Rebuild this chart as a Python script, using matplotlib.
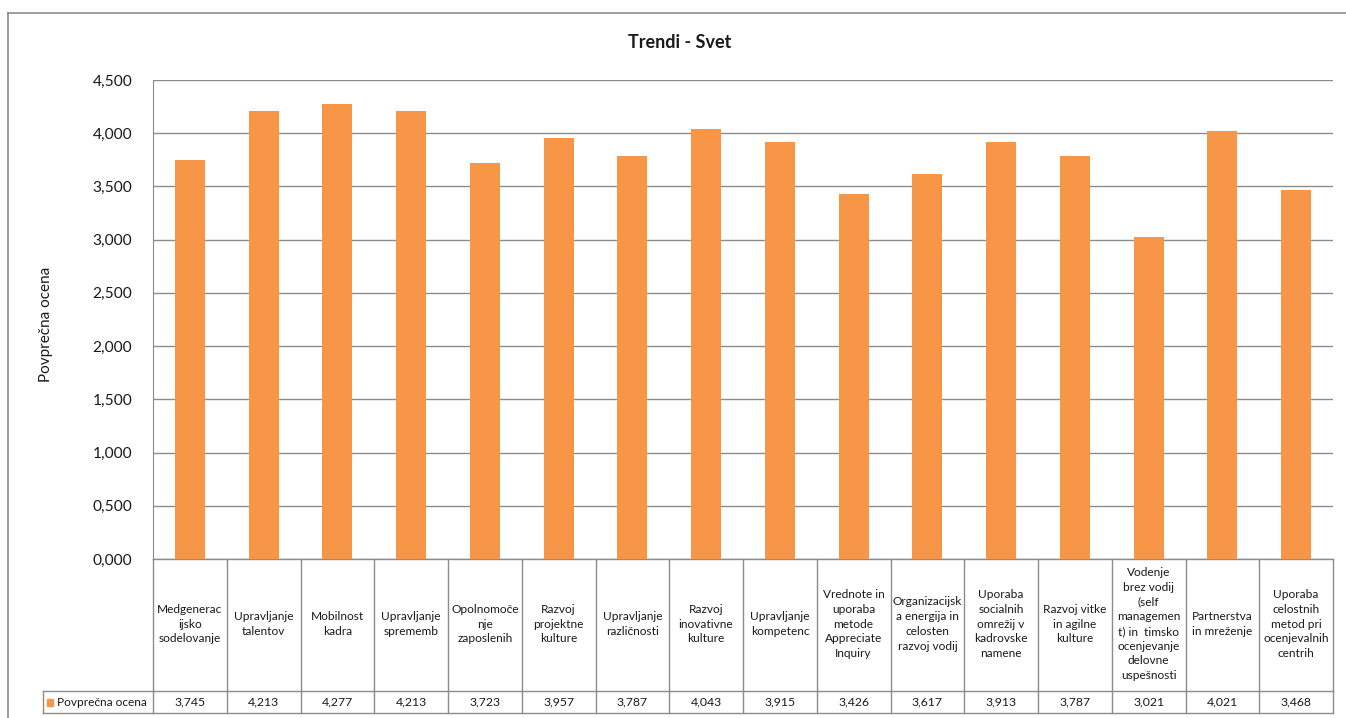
import matplotlib.pyplot as plt
from matplotlib.transforms import blended_transform_factory
from matplotlib.patches import Rectangle
from matplotlib.lines import Line2D

plt.rcParams['font.family'] = ['Lato', 'DejaVu Sans']

kategorije = [
    'Medgenerac\nijsko\nsodelovanje',
    'Upravljanje\ntalentov',
    'Mobilnost\nkadra',
    'Upravljanje\nsprememb',
    'Opolnomoče\nnje\nzaposlenih',
    'Razvoj\nprojektne\nkulture',
    'Upravljanje\nrazličnosti',
    'Razvoj\ninovativne\nkulture',
    'Upravljanje\nkompetenc',
    'Vrednote in\nuporaba\nmetode\nAppreciate\nInquiry',
    'Organizacijsk\na energija in\ncelosten\nrazvoj vodij',
    'Uporaba\nsocialnih\nomrežij v\nkadrovske\nnamene',
    'Razvoj vitke\nin agilne\nkulture',
    'Vodenje\nbrez vodij\n(self\nmanagemen\nt) in  timsko\nocenjevanje\ndelovne\nuspešnosti',
    'Partnerstva\nin mreženje',
    'Uporaba\ncelostnih\nmetod pri\nocenjevalnih\ncentrih',
]
ocene = [3.745, 4.213, 4.277, 4.213, 3.723, 3.957, 3.787, 4.043,
         3.915, 3.426, 3.617, 3.913, 3.787, 3.021, 4.021, 3.468]
y_ticks = [0, 0.5, 1.0, 1.5, 2.0, 2.5, 3.0, 3.5, 4.0, 4.5]

W, H = 1346, 718
oranzna = '#F79646'
siva = '#8C8C8C'
besedilo = '#1a1a1a'

fig = plt.figure(figsize=(W / 100, H / 100), dpi=100)
ax = fig.add_axes([153 / W, 1 - 559 / H, (1333 - 153) / W, (559 - 80) / H])

x = range(len(ocene))
ax.bar(x, ocene, width=0.41, color=oranzna, zorder=3)
ax.set_xlim(-0.5, len(ocene) - 0.5)
ax.set_ylim(0, 4.5)
ax.set_yticks(y_ticks)
ax.set_yticklabels([f'{t:.3f}'.replace('.', ',') for t in y_ticks],
                   fontsize=11.2, color=besedilo)
ax.set_xticks([])
ax.yaxis.grid(True, color=siva, linewidth=1, zorder=0)
ax.tick_params(axis='y', length=0, pad=15)
for s in ['top', 'right', 'bottom']:
    ax.spines[s].set_visible(False)
ax.spines['left'].set_color(siva)

ax.set_ylabel('Povprečna ocena', fontsize=11, color=besedilo)
ax.yaxis.set_label_coords(-0.085, 0.49)
fig.text(680 / W, 1 - 42 / H, 'Trendi - Svet', ha='center', va='center',
         fontsize=13, fontweight='bold', color=besedilo)

# tabela s podatki
tr = blended_transform_factory(ax.transData, fig.transFigure)
y_top = 1 - 559 / H
y_mid = 1 - 691 / H
y_bot = 1 - 713 / H
n = len(ocene)
for i in range(n + 1):
    ax.add_line(Line2D([i - 0.5, i - 0.5], [y_top, y_bot], transform=tr,
                       color=siva, linewidth=1, clip_on=False))
for yy in [y_top, y_mid, y_bot]:
    ax.add_line(Line2D([-0.5, n - 0.5], [yy, yy], transform=tr,
                       color=siva, linewidth=1, clip_on=False))
fig.add_artist(Line2D([43 / W, 153 / W], [y_mid, y_mid], color=siva, linewidth=1))
fig.add_artist(Line2D([43 / W, 153 / W], [y_bot, y_bot], color=siva, linewidth=1))
fig.add_artist(Line2D([43 / W, 43 / W], [y_mid, y_bot], color=siva, linewidth=1))

for i, (k, v) in enumerate(zip(kategorije, ocene)):
    ax.text(i, (y_top + y_mid) / 2 + 1 / H, k, transform=tr, ha='center', va='center',
            fontsize=8.6, linespacing=1.42, clip_on=False, color=besedilo)
    ax.text(i, (y_mid + y_bot) / 2, f'{v:.3f}'.replace('.', ','), transform=tr,
            ha='center', va='center', fontsize=8.8, clip_on=False, color=besedilo)

fig.add_artist(Rectangle((47 / W, 1 - 706 / H), 6 / W, 7 / H, color=oranzna))
fig.text(57 / W, (y_mid + y_bot) / 2, 'Povprečna ocena', ha='left', va='center',
         fontsize=8.6, color=besedilo)

# okvir grafikona
fig.add_artist(Line2D([8 / W, 1], [1 - 13 / H, 1 - 13 / H], color=siva, linewidth=1.2))
fig.add_artist(Line2D([8 / W, 8 / W], [1 - 13 / H, 0], color=siva, linewidth=1.2))

fig.savefig('out.png', dpi=100)
